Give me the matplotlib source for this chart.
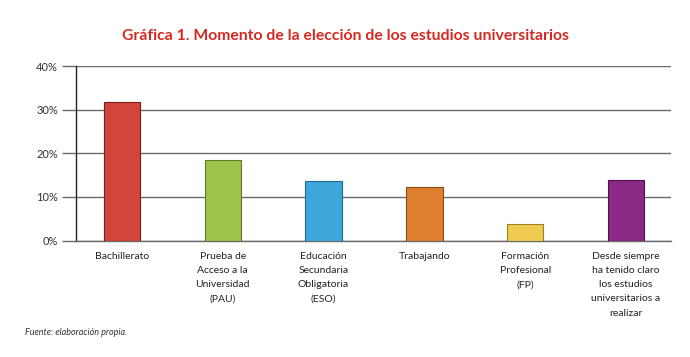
import matplotlib
matplotlib.use("Agg")
import matplotlib.pyplot as plt
from matplotlib.ticker import PercentFormatter

# Data
categories = ["Bachillerato",
              "Prueba de\nAcceso a la\nUniversidad\n(PAU)",
              "Educación\nSecundaria\nObligatoria\n(ESO)",
              "Trabajando",
              "Formación\nProfesional\n(FP)",
              "Desde siempre\nha tenido claro\nlos estudios\nuniversitarios a\nrealizar"]
values = [31.7, 18.5, 13.6, 12.3, 3.8, 13.9]
colors = ["#d2463a", "#9cc34b", "#3ea7d9", "#de7f32", "#efcb52", "#8a2a86"]
edge_colors = ["#7a1f18", "#5d7a28", "#1f6a90", "#8a4a15", "#9a8026", "#4e0f4c"]
yticks = [0, 10, 20, 30, 40]

plt.rcParams['font.family'] = ['Lato', 'DejaVu Sans']

fig = plt.figure(figsize=(6.9, 3.57), dpi=100)
ax = fig.add_axes([0.110, 0.326, 0.862, 0.489])

x = list(range(len(categories)))
ax.bar(x, values, width=0.36, color=colors, edgecolor=edge_colors,
       linewidth=0.8, zorder=3)

ax.set_xlim(-0.456, 5.443)
ax.set_ylim(0, 40)
ax.set_yticks(yticks)
ax.yaxis.set_major_formatter(PercentFormatter(decimals=0))
ax.yaxis.grid(True, color="#6a6a6a", linewidth=1.0, zorder=0)
ax.set_xticks(x)
ax.set_xticklabels(categories, fontsize=7.5, color="#222222", linespacing=1.75,
                   va="top")
ax.tick_params(axis="x", length=0, pad=8)
ax.tick_params(axis="y", length=10, width=1.0, color="#6a6a6a",
               labelsize=8, labelcolor="#333333", pad=3)

for side in ["top", "right"]:
    ax.spines[side].set_visible(False)
ax.spines["left"].set_color("#222222")
ax.spines["left"].set_linewidth(1.0)
ax.spines["bottom"].set_color("#6a6a6a")
ax.spines["bottom"].set_linewidth(1.0)

fig.text(0.5, 0.900, "Gráfica 1. Momento de la elección de los estudios universitarios",
         ha="center", va="center", fontsize=11.3, fontweight="bold", color="#d42a22")
fig.text(0.036, 0.07, "Fuente: elaboración propia.", ha="left", va="center",
         fontsize=6.5, style="italic", color="#333333")

fig.savefig("out.png", dpi=100)
